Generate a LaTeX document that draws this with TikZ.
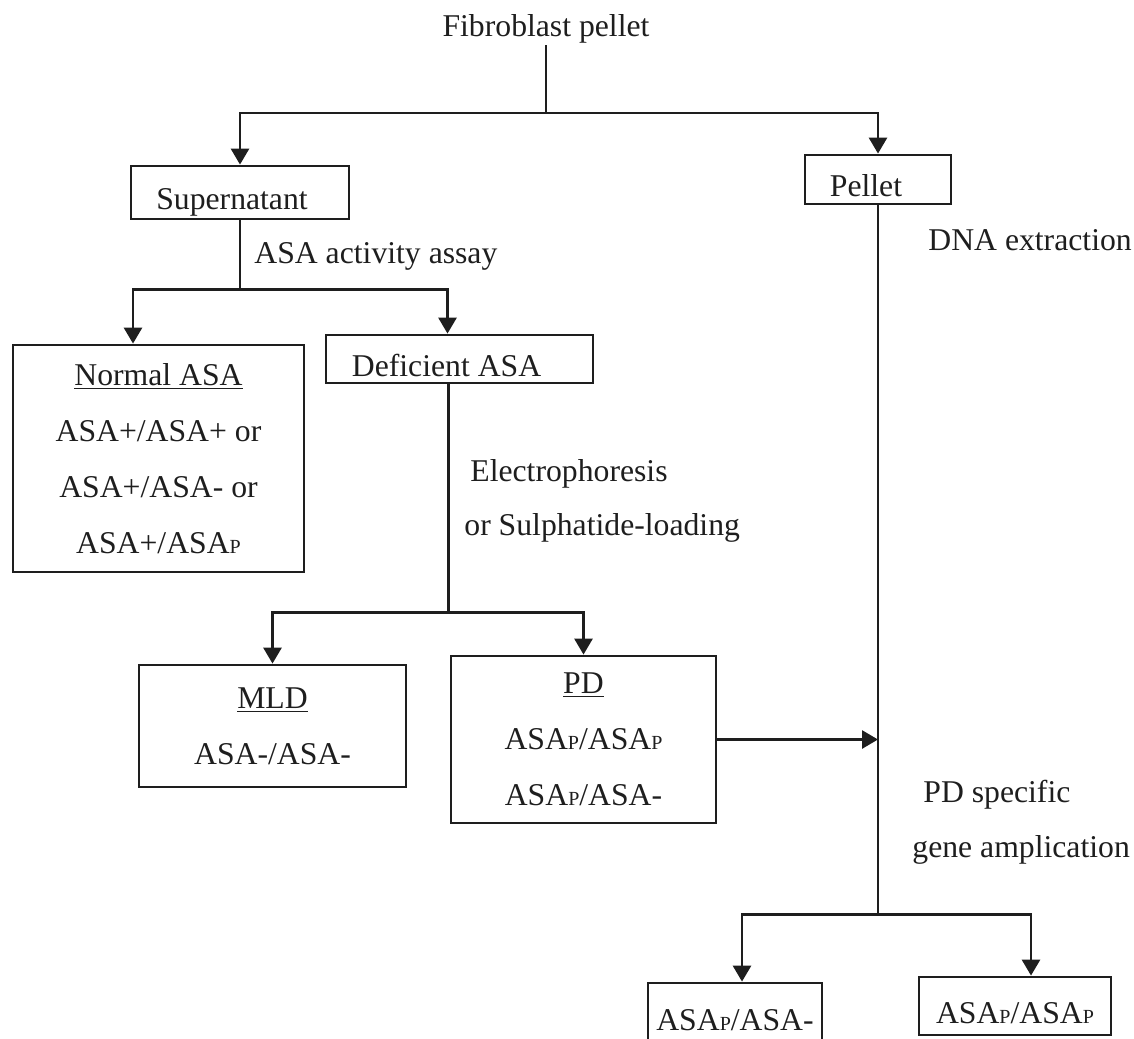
\documentclass[tikz,border=0pt]{standalone}
\usepackage{fontspec}
\setmainfont{Liberation Serif}
\usepackage{tikz}
\usetikzlibrary{arrows.meta, positioning, calc}
\definecolor{inkgray}{HTML}{1E1E1E}
\newcommand{\smallp}{{\fontsize{10}{10}\selectfont P}}

\begin{document}
\begin{tikzpicture}[x=0.5pt, y=-0.5pt, line width=1.4pt, color=inkgray,
  font=\fontsize{15.85}{28}\selectfont,
  box/.style={draw, rectangle, inner sep=0pt, align=center},
  onebox/.style={box, text height=17pt, text depth=0pt},
  note/.style={anchor=base west, inner sep=0pt},
  flow/.style={-{Triangle[width=9pt, length=8pt]}}]
  \clip (0,0) rectangle (1134,1038);

  \node[anchor=base, inner sep=0pt] (fib) at (546,37) {Fibroblast pellet};
  \node[onebox, minimum width=109pt, minimum height=26.5pt] (sup) at (240,192.5) {Supernatant\hspace*{8pt}};
  \node[onebox, minimum width=73pt, minimum height=24.5pt] (pel) at (878,179.5) {Pellet\hspace*{12pt}};
  \node[box, minimum width=145.5pt, minimum height=113.5pt] (nor) at (158.5,458.5) {\underline{Normal ASA}\\ASA+/ASA+ or\\ASA+/ASA- or\\ASA+/ASA\smallp};
  \node[onebox, minimum width=133.5pt, minimum height=24pt] (def) at (459.5,359) {Deficient ASA\hspace*{13pt}};
  \node[box, minimum width=133.5pt, minimum height=61pt] (mld) at (272.5,726) {\underline{MLD}\\ASA-/ASA-};
  \node[box, minimum width=132.5pt, minimum height=83.5pt] (pd) at (583.5,739.5) {\underline{PD}\\ASA\smallp/ASA\smallp\\ASA\smallp/ASA-};
  \node[onebox, minimum width=87pt, minimum height=30pt] (bl) at (735,1013) {ASA\smallp/ASA-};
  \node[onebox, minimum width=96pt, minimum height=29pt] (br) at (1015,1006) {ASA\smallp/ASA\smallp};

  \node[note] (assay) at (253,263) {ASA activity assay};
  \node[note] (dna) at (927,250) {DNA extraction};
  \node[note] (elec) at (469,481) {Electrophoresis};
  \node[note] (sulph) at (463,535) {or Sulphatide-loading};
  \node[note] (pdspec) at (922,802) {PD specific};
  \node[note] (gene) at (911,857) {gene amplication};

  \coordinate (split1) at (546,113);
  \draw (fib) -- (split1);
  \draw[flow] (split1) -| (sup.north);
  \draw[flow] (split1) -| (pel.north);

  \draw (sup.south) -- ++(0,69) coordinate (split2);
  \draw[flow] (split2) -| ([xshift=-12.75pt]nor.north);
  \draw[flow] (split2) -| ([xshift=-6pt]def.north);

  \draw ([xshift=-5.5pt]def.south) -- ++(0,228) coordinate (split3);
  \draw[flow] (split3) -| (mld.north);
  \draw[flow] (split3) -| (pd.north);

  \draw (pel.south) -- ++(0,709) coordinate (split4);
  \draw[flow] (split4) -| ([xshift=3.5pt]bl.north);
  \draw[flow] (split4) -| ([xshift=8pt]br.north);
  \draw[flow] (pd.east) -- (pd.east -| split4);
\end{tikzpicture}
\end{document}
